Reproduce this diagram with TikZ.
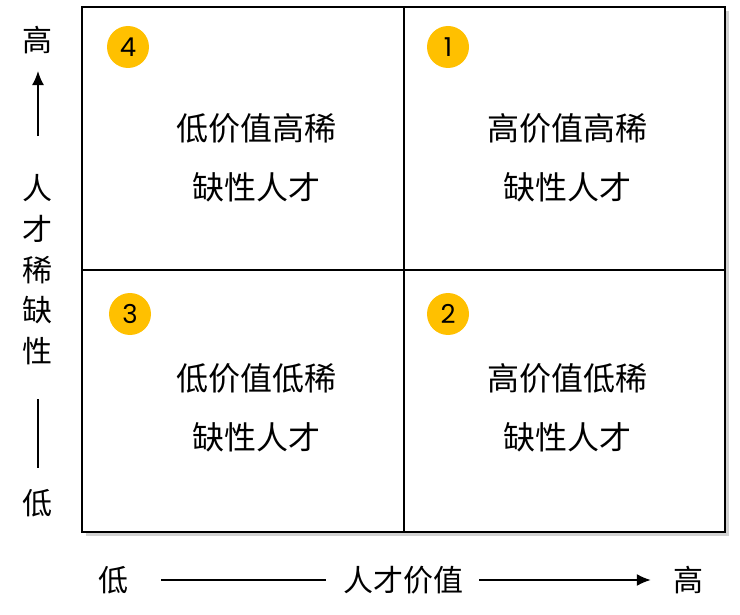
\documentclass[tikz,border=0pt]{standalone}
\usepackage{fontspec}
\newfontfamily\cjk{Noto Sans CJK SC}
\newfontfamily\numfont{Poppins}
\usetikzlibrary{positioning,shadows,arrows.meta}
\definecolor{badgegold}{HTML}{FFC000}

\begin{document}
\begin{tikzpicture}[x=1pt, y=-1pt, >={Latex[length=14pt,width=12pt]}, font=\cjk]
        \tikzstyle{quad} = [font=\cjk\fontsize{32}{32}\selectfont, inner sep=0pt, node distance=59pt]
        \tikzstyle{axis} = [font=\cjk\fontsize{30}{30}\selectfont, inner sep=0pt, node distance=40.8pt]
        \tikzstyle{badge} = [circle, fill=badgegold, minimum size=42pt, inner sep=0pt,
                            font=\numfont\fontsize{26}{26}\selectfont]
        \tikzstyle{frame} = [line width=2.4pt]
        \tikzstyle{axisline} = [line width=1.6pt]

        \useasboundingbox (0,0) rectangle (740,615);

        % Cadre de la matrice
        \coordinate (nw) at (82,7);
        \coordinate (se) at (725,532);
        \coordinate (midtop) at (404,7);
        \coordinate (midbot) at (404,532);
        \coordinate (midleft) at (82,270);
        \coordinate (midright) at (725,270);
        \fill[black!35, opacity=0.5] (86,11) rectangle (729,536);
        \draw[frame, fill=white] (nw) rectangle (se);
        \draw[frame] (midtop) -- (midbot);
        \draw[frame] (midleft) -- (midright);

        % Pastilles
        \node[badge] (b4) at (128,47) {4};
        \node[badge] (b1) at (448,47) {1};
        \node[badge] (b3) at (130,314) {3};
        \node[badge] (b2) at (448,314) {2};

        % Textes des quadrants
        \node[quad] (q4a) at (256,128) {低价值高稀};
        \node[quad, below of = q4a] (q4b) {缺性人才};
        \node[quad] (q1a) at (567,128) {高价值高稀};
        \node[quad, below of = q1a] (q1b) {缺性人才};
        \node[quad] (q3a) at (256,378) {低价值低稀};
        \node[quad, below of = q3a] (q3b) {缺性人才};
        \node[quad] (q2a) at (567,378) {高价值低稀};
        \node[quad, below of = q2a] (q2b) {缺性人才};

        % Axe vertical
        \node[axis] (yhigh) at (38,40) {高};
        \node[axis] (y1) at (38,188) {人};
        \node[axis, below of = y1] (y2) {才};
        \node[axis, below of = y2] (y3) {稀};
        \node[axis, below of = y3] (y4) {缺};
        \node[axis, below of = y4] (y5) {性};
        \node[axis] (ylow) at (38,503) {低};

        % Axe horizontal
        \node[axis] (xlow) at (113,580) {低};
        \node[axis] (xname) at (403,580) {人才价值};
        \node[axis] (xhigh) at (688,580) {高};

        % Flèches
        \draw[axisline, ->, shorten <=38pt, shorten >=17pt] (y1) -- (yhigh);
        \draw[axisline, shorten <=34pt, shorten >=21pt] (y5) -- (ylow);
        \draw[axisline, shorten <=33pt, shorten >=17pt] (xlow) -- (xname);
        \draw[axisline, ->, shorten <=16pt, shorten >=22pt] (xname) -- (xhigh);
    \end{tikzpicture}
\end{document}
